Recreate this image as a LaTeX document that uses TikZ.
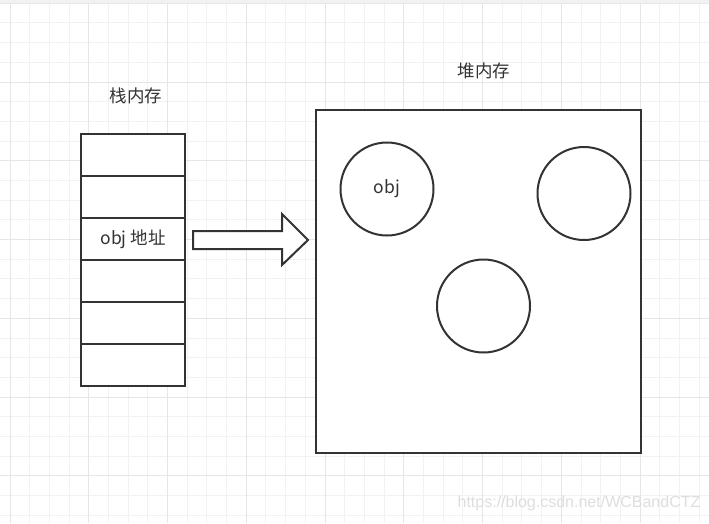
\documentclass[tikz,border=0pt]{standalone}
\usepackage{fontspec}
\usetikzlibrary{calc}
\setmainfont{Noto Sans CJK SC}
\newfontfamily\wmfont{Liberation Sans}
\definecolor{ink}{HTML}{333333}
\definecolor{txt}{HTML}{333333}
\definecolor{gridminor}{HTML}{F2F2F2}
\definecolor{gridmajor}{HTML}{E6E6E6}
\definecolor{wm}{HTML}{DEDEDE}
\tikzset{
  cell/.style={draw=ink, line width=2pt, fill=white, rectangle, minimum width=104pt, minimum height=42pt, inner sep=0pt, font=\fontsize{17.5}{20}\selectfont, text=txt},
  heapbox/.style={draw=ink, line width=2pt, fill=white, rectangle, minimum width=325pt, minimum height=343pt, inner sep=0pt},
  obj/.style={draw=ink, line width=2pt, fill=white, circle, minimum size=93pt, inner sep=0pt, font=\fontsize{17.5}{20}\selectfont, text=txt},
  title/.style={font=\fontsize{17.5}{20}\selectfont, text=txt, inner sep=0pt},
  blockarrow/.style={draw=ink, line width=2pt, fill=white, line join=miter},
}
\begin{document}
\begin{tikzpicture}[x=1pt,y=-1pt]
\useasboundingbox (0,0) rectangle (709,523);
\fill[white] (0,0) rectangle (709,523);
% grid
\foreach \i in {0,...,35} {
  \draw[gridminor, line width=1pt] ({10+19.69*\i},0) -- ({10+19.69*\i},523);
}
\foreach \j in {0,...,26} {
  \draw[gridminor, line width=1pt] (0,{3.3+19.69*\j}) -- (709,{3.3+19.69*\j});
}
\foreach \i in {0,4,...,32} {
  \draw[gridmajor, line width=1pt] ({10+19.69*\i},0) -- ({10+19.69*\i},523);
}
\foreach \j in {0,4,...,24} {
  \draw[gridmajor, line width=1pt] (0,{3.3+19.69*\j}) -- (709,{3.3+19.69*\j});
}
\fill[gridminor] (0,0) rectangle (709,2.5);
% titles
\node[title] (stacklbl) at (136,96) {栈内存};
\node[title] (heaplbl) at (484,71) {堆内存};
% stack
\node[cell] (s1) at (133,155) {};
\node[cell] (s2) at (133,197) {};
\node[cell] (s3) at (133,239) {obj 地址};
\node[cell] (s4) at (133,281) {};
\node[cell] (s5) at (133,323) {};
\node[cell] (s6) at (133,365) {};
% heap
\node[heapbox] (heap) at (478.5,281.5) {};
\node[obj] (c1) at (387,189) {obj};
\node[obj] (c2) at (584,193.5) {};
\node[obj] (c3) at (483.5,306) {};
% block arrow
\coordinate (atail) at (193,240);
\coordinate (atip) at (308,240);
\draw[blockarrow] ($(atail)+(0,-9)$) -- (282,231) -- (282,214) -- (atip) -- (282,265) -- (282,249) -- ($(atail)+(0,9)$) -- cycle;
% watermark
\node[font=\wmfont\fontsize{16}{19}\selectfont, text=wm, inner sep=0pt] (wmk) at (579,503) {https://blog.csdn.net/WCBandCTZ};
\end{tikzpicture}
\end{document}
